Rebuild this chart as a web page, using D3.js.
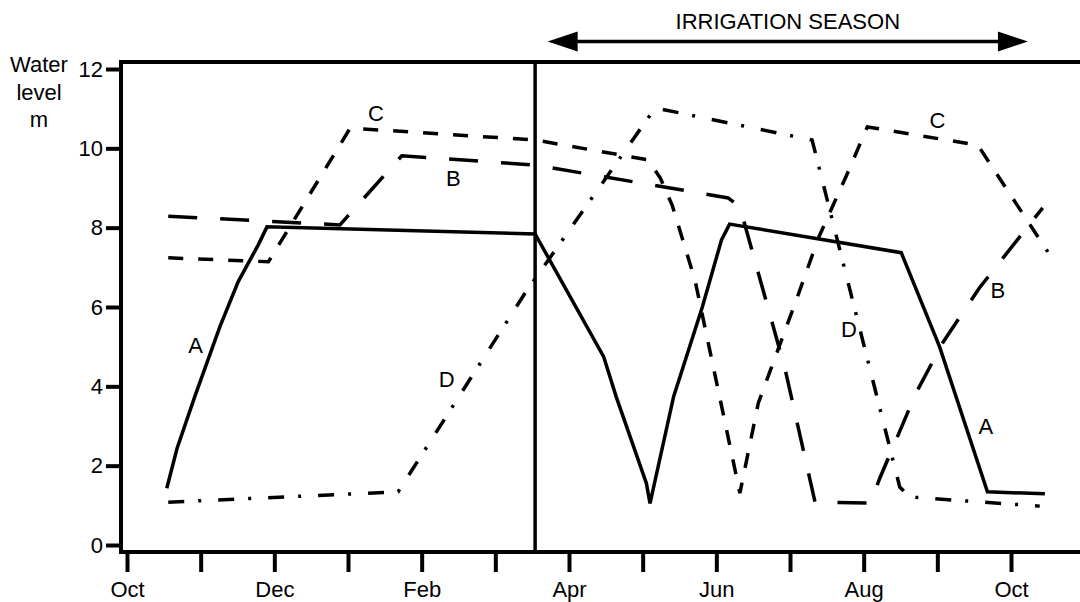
<!DOCTYPE html>
<html>
<head>
<meta charset="utf-8">
<script src="https://cdn.jsdelivr.net/npm/d3@7"></script>
<style>
  body { margin: 0; background: #fff; }
  text { font-family: "Liberation Sans", Arial, sans-serif; fill: #000; }
</style>
</head>
<body>
<div id="chart"></div>
<script>
// month index 0 = Oct ... 12 = Oct next year
const months = ['Oct', 'Nov', 'Dec', 'Jan', 'Feb', 'Mar', 'Apr', 'May', 'Jun', 'Jul', 'Aug', 'Sep', 'Oct']
const levelTicks = [0, 2, 4, 6, 8, 10, 12]

// [month, water level m]
const seriesA = [[0.54, 1.43], [0.68, 2.44], [0.92, 3.74], [1.26, 5.50], [1.51, 6.64], [1.78, 7.56], [1.90, 8.02],
  [5.54, 7.84], [6.47, 4.75], [6.64, 3.74], [7.05, 1.56], [7.10, 1.05], [7.42, 3.74], [7.81, 6.00], [8.07, 7.69],
  [8.18, 8.09], [10.51, 7.37], [11.03, 5.00], [11.68, 1.34], [12.46, 1.29]]
const seriesB = [[0.56, 8.29], [2.89, 8.07], [3.73, 9.81], [5.54, 9.58], [8.16, 8.75], [8.32, 8.52], [8.93, 4.46],
  [9.34, 1.08], [10.09, 1.06], [10.22, 1.69], [10.71, 3.83], [11.08, 5.12], [11.57, 6.48], [12.43, 8.50]]
const seriesC = [[0.56, 7.24], [1.92, 7.14], [3.03, 10.51], [5.54, 10.21], [7.07, 9.71], [7.24, 9.25], [7.40, 8.57],
  [7.71, 6.68], [8.32, 1.31], [8.57, 3.58], [9.10, 6.25], [9.39, 7.76], [9.77, 9.33], [10.05, 10.54],
  [11.55, 10.08], [12.50, 7.39]]
const seriesD = [[0.56, 1.08], [3.68, 1.34], [5.40, 6.34], [7.17, 11.02], [9.30, 10.21], [10.49, 1.46],
  [10.63, 1.21], [12.39, 0.98]]

// curve labels: [name, month, level]
const curveLabels = [['A', 0.93, 5.05], ['A', 11.66, 3.00], ['B', 4.43, 9.25], ['B', 11.82, 6.43],
  ['C', 3.38, 10.90], ['C', 11.0, 10.72], ['D', 4.34, 4.18], ['D', 9.80, 5.44]]

const seasonStart = 5.54
const seasonArrow = [5.71, 12.23]

const width = 1080
const height = 602
const fontSize = '22px'

const svg = d3.select('#chart')
  .append('svg')
  .attr('width', width)
  .attr('height', height)

const x = d3.scaleLinear().domain([0, 12]).range([127, 1011])
const y = d3.scaleLinear().domain([0, 12]).range([545, 69])

const frameLeft = x(0) - 6
const frameTop = y(12) - 7
const frameBottom = y(0) + 7

// axes
const xAxis = svg.append('g')
  .attr('transform', `translate(0,${frameBottom})`)
  .call(d3.axisBottom(x)
    .tickValues(d3.range(13))
    .tickSize(20)
    .tickPadding(9)
    .tickFormat(i => i % 2 === 0 ? months[i] : ''))
xAxis.select('.domain').remove()
xAxis.selectAll('line').attr('stroke', '#000').attr('stroke-width', 4)
xAxis.selectAll('text').style('font-size', fontSize).attr('font-family', null)

const yAxis = svg.append('g')
  .attr('transform', `translate(${frameLeft},0)`)
  .call(d3.axisLeft(y)
    .tickValues(levelTicks)
    .tickSize(15)
    .tickPadding(3))
yAxis.select('.domain').remove()
yAxis.selectAll('line').attr('stroke', '#000').attr('stroke-width', 4)
yAxis.selectAll('text').style('font-size', fontSize).attr('font-family', null)

// frame (no right side)
svg.append('path')
  .attr('d', `M${width},${frameTop}H${frameLeft}V${frameBottom}H${width}`)
  .attr('fill', 'none')
  .attr('stroke', '#000')
  .attr('stroke-width', 4)

// start of irrigation season
svg.append('line')
  .attr('x1', x(seasonStart)).attr('x2', x(seasonStart))
  .attr('y1', frameTop).attr('y2', frameBottom)
  .attr('stroke', '#000')
  .attr('stroke-width', 3.5)

// y title
svg.append('text')
  .attr('x', 39)
  .attr('text-anchor', 'middle')
  .style('font-size', fontSize)
  .selectAll('tspan')
  .data(['Water', 'level', 'm'])
  .enter()
  .append('tspan')
  .attr('x', 39)
  .attr('y', (d, i) => 72 + i * 27.5)
  .text(d => d)

// irrigation season arrow
const ax1 = x(seasonArrow[0])
const ax2 = x(seasonArrow[1])
const ay = 41.5
svg.append('line')
  .attr('x1', ax1 + 20).attr('x2', ax2 - 20)
  .attr('y1', ay).attr('y2', ay)
  .attr('stroke', '#000')
  .attr('stroke-width', 3.5)
svg.append('path')
  .attr('d', `M${ax1},${ay}L${ax1 + 30},${ay - 10}V${ay + 10}Z M${ax2},${ay}L${ax2 - 30},${ay - 10}V${ay + 10}Z`)
  .attr('fill', '#000')
svg.append('text')
  .attr('x', (ax1 + ax2) / 2)
  .attr('y', 29)
  .attr('text-anchor', 'middle')
  .style('font-size', fontSize)
  .text('IRRIGATION SEASON')

// curves
const line = d3.line()
  .x(d => x(d[0]))
  .y(d => y(d[1]))

const curves = [
  { data: seriesA, dash: null },
  { data: seriesB, dash: '29,23' },
  { data: seriesC, dash: '15,15' },
  { data: seriesD, dash: '16,14,3,17' }
]

svg.selectAll('path.curve')
  .data(curves)
  .enter()
  .append('path')
  .attr('class', 'curve')
  .attr('d', d => line(d.data))
  .attr('fill', 'none')
  .attr('stroke', '#000')
  .attr('stroke-width', 3.5)
  .attr('stroke-linejoin', 'miter')
  .attr('stroke-dasharray', d => d.dash)

svg.selectAll('text.lab')
  .data(curveLabels)
  .enter()
  .append('text')
  .attr('class', 'lab')
  .attr('x', d => x(d[1]))
  .attr('y', d => y(d[2]))
  .attr('dy', '0.36em')
  .attr('text-anchor', 'middle')
  .style('font-size', fontSize)
  .text(d => d[0])
</script>
</body>
</html>
